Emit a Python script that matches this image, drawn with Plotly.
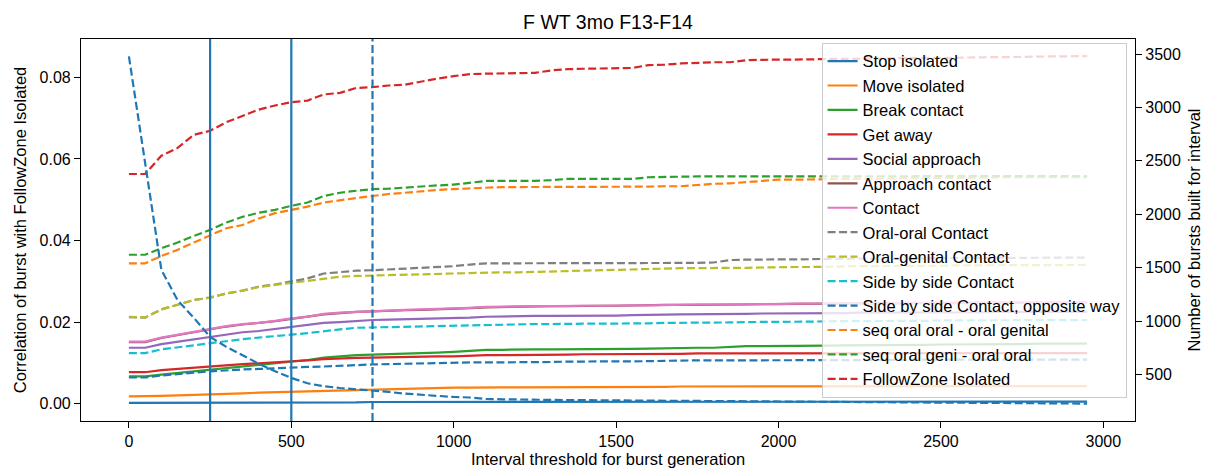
import plotly.graph_objects as go

# ---------------- data ----------------
interval = list(range(0, 3000, 50))

stop_isolated = [0.0002,0.0002,0.0002,0.0002,0.0002,0.0002,0.0002,0.0003,0.0003,0.0003,
                 0.0003,0.0003,0.0003,0.0003,0.0003,0.0004,0.0004,0.0004,0.0004,0.0004,
                 0.0004,0.0004,0.0004,0.0004,0.0004,0.0004,0.0004,0.0004,0.0004,0.0004,
                 0.0004,0.0004,0.0004,0.0004,0.0004,0.0004,0.0005,0.0005,0.0005,0.0005,
                 0.0005,0.0005,0.0005,0.0005,0.0005,0.0005,0.0005,0.0005,0.0005,0.0005,
                 0.0005,0.0005,0.0005,0.0005,0.0005,0.0005,0.0005,0.0005,0.0005,0.0005]
move_isolated = [0.0018,0.0018,0.0019,0.0020,0.0021,0.0022,0.0024,0.0025,0.0027,0.0028,
                 0.0030,0.0031,0.0032,0.0033,0.0034,0.0034,0.0035,0.0036,0.0037,0.0038,
                 0.0039,0.0039,0.0040,0.0040,0.0040,0.0040,0.0040,0.0041,0.0041,0.0041,
                 0.0041,0.0041,0.0041,0.0041,0.0042,0.0042,0.0042,0.0042,0.0042,0.0042,
                 0.0042,0.0042,0.0042,0.0043,0.0043,0.0043,0.0043,0.0043,0.0043,0.0043,
                 0.0043,0.0043,0.0043,0.0043,0.0043,0.0043,0.0043,0.0043,0.0043,0.0043]
break_contact = [0.0067,0.0067,0.0071,0.0075,0.0079,0.0082,0.0086,0.0090,0.0094,0.0098,
                 0.0102,0.0107,0.0113,0.0116,0.0119,0.0120,0.0121,0.0122,0.0124,0.0125,
                 0.0127,0.0130,0.0132,0.0132,0.0133,0.0133,0.0133,0.0133,0.0134,0.0134,
                 0.0134,0.0134,0.0135,0.0136,0.0137,0.0137,0.0137,0.0139,0.0141,0.0141,
                 0.0141,0.0141,0.0142,0.0142,0.0143,0.0143,0.0143,0.0144,0.0144,0.0144,
                 0.0145,0.0145,0.0145,0.0146,0.0146,0.0146,0.0147,0.0147,0.0147,0.0147]
get_away = [0.0077,0.0077,0.0082,0.0085,0.0089,0.0092,0.0095,0.0097,0.0099,0.0101,
            0.0103,0.0106,0.0109,0.0111,0.0112,0.0113,0.0114,0.0115,0.0115,0.0116,
            0.0116,0.0118,0.0119,0.0119,0.0119,0.0120,0.0120,0.0120,0.0121,0.0121,
            0.0121,0.0121,0.0122,0.0122,0.0122,0.0123,0.0123,0.0123,0.0123,0.0124,
            0.0124,0.0124,0.0124,0.0124,0.0124,0.0124,0.0124,0.0124,0.0124,0.0124,
            0.0124,0.0124,0.0124,0.0124,0.0124,0.0124,0.0124,0.0124,0.0124,0.0124]
social_approach = [0.0137,0.0137,0.0146,0.0152,0.0158,0.0164,0.0170,0.0175,0.0178,0.0183,
                   0.0188,0.0192,0.0198,0.0200,0.0203,0.0205,0.0206,0.0207,0.0208,0.0208,
                   0.0209,0.0211,0.0213,0.0214,0.0214,0.0215,0.0215,0.0215,0.0216,0.0216,
                   0.0216,0.0217,0.0217,0.0218,0.0219,0.0219,0.0220,0.0220,0.0220,0.0221,
                   0.0221,0.0221,0.0222,0.0222,0.0222,0.0223,0.0223,0.0223,0.0223,0.0224,
                   0.0224,0.0224,0.0224,0.0224,0.0225,0.0225,0.0225,0.0225,0.0225,0.0225]
approach_contact = [0.0151,0.0151,0.0161,0.0168,0.0174,0.0181,0.0189,0.0194,0.0198,0.0202,
                    0.0208,0.0213,0.0219,0.0222,0.0225,0.0226,0.0228,0.0229,0.0230,0.0231,
                    0.0233,0.0234,0.0236,0.0237,0.0238,0.0238,0.0239,0.0239,0.0240,0.0240,
                    0.0240,0.0241,0.0241,0.0242,0.0242,0.0242,0.0243,0.0243,0.0243,0.0244,
                    0.0244,0.0244,0.0245,0.0245,0.0245,0.0246,0.0246,0.0246,0.0246,0.0247,
                    0.0247,0.0247,0.0247,0.0247,0.0248,0.0248,0.0248,0.0248,0.0248,0.0248]
contact = [0.0152,0.0152,0.0162,0.0169,0.0175,0.0182,0.0190,0.0195,0.0198,0.0203,
           0.0209,0.0213,0.0220,0.0223,0.0225,0.0227,0.0228,0.0230,0.0231,0.0232,
           0.0233,0.0235,0.0237,0.0238,0.0238,0.0239,0.0239,0.0240,0.0240,0.0240,
           0.0241,0.0241,0.0241,0.0242,0.0242,0.0243,0.0243,0.0243,0.0244,0.0244,
           0.0244,0.0245,0.0245,0.0245,0.0246,0.0246,0.0246,0.0246,0.0247,0.0247,
           0.0247,0.0247,0.0247,0.0248,0.0248,0.0248,0.0248,0.0248,0.0248,0.0248]
oral_oral = [0.0212,0.0211,0.0231,0.0242,0.0254,0.0260,0.0270,0.0277,0.0287,0.0292,
             0.0299,0.0307,0.0319,0.0323,0.0326,0.0327,0.0329,0.0332,0.0334,0.0335,
             0.0337,0.0341,0.0344,0.0344,0.0344,0.0344,0.0344,0.0345,0.0345,0.0345,
             0.0345,0.0345,0.0345,0.0345,0.0345,0.0345,0.0346,0.0352,0.0353,0.0353,
             0.0354,0.0354,0.0354,0.0355,0.0355,0.0355,0.0356,0.0356,0.0356,0.0356,
             0.0357,0.0357,0.0357,0.0357,0.0358,0.0358,0.0358,0.0358,0.0358,0.0358]
oral_genital = [0.0213,0.0211,0.0231,0.0242,0.0254,0.0260,0.0270,0.0277,0.0286,0.0291,
                0.0296,0.0301,0.0307,0.0311,0.0313,0.0314,0.0315,0.0316,0.0318,0.0318,
                0.0319,0.0320,0.0321,0.0322,0.0322,0.0323,0.0324,0.0325,0.0326,0.0327,
                0.0328,0.0329,0.0330,0.0332,0.0332,0.0332,0.0333,0.0333,0.0333,0.0334,
                0.0334,0.0335,0.0335,0.0336,0.0336,0.0337,0.0337,0.0337,0.0338,0.0338,
                0.0338,0.0339,0.0339,0.0339,0.0340,0.0340,0.0340,0.0340,0.0340,0.0340]
side_by_side = [0.0124,0.0124,0.0133,0.0138,0.0143,0.0149,0.0154,0.0158,0.0162,0.0165,
                0.0169,0.0173,0.0178,0.0182,0.0186,0.0187,0.0188,0.0189,0.0189,0.0190,
                0.0191,0.0192,0.0193,0.0194,0.0195,0.0195,0.0195,0.0196,0.0196,0.0196,
                0.0196,0.0197,0.0197,0.0198,0.0198,0.0199,0.0199,0.0199,0.0200,0.0200,
                0.0201,0.0201,0.0201,0.0202,0.0202,0.0202,0.0203,0.0203,0.0203,0.0203,
                0.0204,0.0204,0.0204,0.0204,0.0205,0.0205,0.0205,0.0205,0.0205,0.0205]
side_by_side_opposite = [0.0064,0.0064,0.0069,0.0073,0.0076,0.0079,0.0082,0.0084,0.0085,0.0087,
                         0.0088,0.0090,0.0091,0.0093,0.0095,0.0096,0.0097,0.0098,0.0099,0.0100,
                         0.0101,0.0101,0.0101,0.0101,0.0102,0.0102,0.0102,0.0103,0.0103,0.0103,
                         0.0104,0.0104,0.0104,0.0105,0.0106,0.0106,0.0106,0.0106,0.0106,0.0106,
                         0.0106,0.0106,0.0107,0.0107,0.0107,0.0107,0.0107,0.0107,0.0107,0.0108,
                         0.0108,0.0108,0.0108,0.0108,0.0108,0.0108,0.0108,0.0108,0.0108,0.0108]
seq_oral_oral_genital = [0.0344,0.0344,0.0362,0.0377,0.0395,0.0413,0.0430,0.0438,0.0454,0.0467,
                         0.0475,0.0483,0.0493,0.0499,0.0504,0.0509,0.0514,0.0517,0.0521,0.0524,
                         0.0526,0.0528,0.0530,0.0531,0.0531,0.0531,0.0531,0.0531,0.0531,0.0531,
                         0.0531,0.0532,0.0532,0.0533,0.0533,0.0536,0.0539,0.0540,0.0543,0.0547,
                         0.0549,0.0549,0.0550,0.0550,0.0551,0.0551,0.0552,0.0552,0.0553,0.0553,
                         0.0553,0.0554,0.0554,0.0554,0.0555,0.0555,0.0555,0.0555,0.0555,0.0555]
seq_oral_geni_oral = [0.0365,0.0365,0.0381,0.0395,0.0411,0.0426,0.0444,0.0458,0.0468,0.0475,
                      0.0485,0.0493,0.0509,0.0517,0.0522,0.0526,0.0527,0.0530,0.0532,0.0535,
                      0.0537,0.0542,0.0546,0.0546,0.0546,0.0546,0.0548,0.0551,0.0551,0.0551,
                      0.0551,0.0551,0.0555,0.0556,0.0556,0.0557,0.0557,0.0557,0.0557,0.0557,
                      0.0557,0.0557,0.0558,0.0558,0.0558,0.0558,0.0558,0.0558,0.0558,0.0558,
                      0.0558,0.0558,0.0558,0.0558,0.0558,0.0558,0.0558,0.0558,0.0558,0.0558]
followzone_isolated = [0.0563,0.0563,0.0608,0.0627,0.0659,0.0669,0.0690,0.0706,0.0721,0.0731,
                       0.0739,0.0743,0.0758,0.0762,0.0774,0.0776,0.0780,0.0782,0.0790,0.0797,
                       0.0803,0.0808,0.0809,0.0810,0.0810,0.0811,0.0817,0.0820,0.0821,0.0822,
                       0.0822,0.0823,0.0830,0.0831,0.0834,0.0836,0.0837,0.0837,0.0842,0.0843,
                       0.0843,0.0844,0.0844,0.0845,0.0845,0.0846,0.0846,0.0847,0.0847,0.0848,
                       0.0848,0.0848,0.0849,0.0849,0.0850,0.0850,0.0851,0.0851,0.0852,0.0852]
burst_count = [3478,2500,1480,1195,1030,853,759,681,600,531,
               468,418,390,374,362,353,337,321,309,297,
               290,285,272,268,265,264,262,261,260,259,
               258,257,256,255,254,253,252,251,250,249,
               248,247,246,245,244,243,242,241,240,239,
               238,237,236,235,234,233,232,231,230,228]

series_names = ["Stop isolated", "Move isolated", "Break contact", "Get away",
                "Social approach", "Approach contact", "Contact", "Oral-oral Contact",
                "Oral-genital Contact", "Side by side Contact",
                "Side by side Contact, opposite way", "seq oral oral - oral genital",
                "seq oral geni - oral oral", "FollowZone Isolated"]
series_values = [stop_isolated, move_isolated, break_contact, get_away, social_approach,
                 approach_contact, contact, oral_oral, oral_genital, side_by_side,
                 side_by_side_opposite, seq_oral_oral_genital, seq_oral_geni_oral,
                 followzone_isolated]
threshold_lines = [250, 500, 750]
threshold_solid = [True, True, False]

# ---------------- style ----------------
palette = ["#1f77b4", "#ff7f0e", "#2ca02c", "#d62728", "#9467bd",
           "#8c564b", "#e377c2", "#7f7f7f", "#bcbd22", "#17becf"]
DASH = "8px,3.5px"
FONT = "Liberation Sans, Arial, Helvetica, sans-serif"

fig = go.Figure()
for i, (name, vals) in enumerate(zip(series_names, series_values)):
    fig.add_trace(go.Scatter(
        x=interval, y=vals, name=name, mode="lines",
        line=dict(color=palette[i % 10], width=2.2,
                  dash="solid" if i < 7 else DASH),
        yaxis="y"))

fig.add_trace(go.Scatter(
    x=interval, y=burst_count, name="Number of bursts", mode="lines",
    line=dict(color=palette[0], width=2.2, dash=DASH),
    yaxis="y2", showlegend=False))

for xv, solid in zip(threshold_lines, threshold_solid):
    fig.add_shape(type="line", xref="x", yref="paper", x0=xv, x1=xv, y0=0, y1=1,
                  line=dict(color=palette[0], width=2.2,
                            dash="solid" if solid else DASH),
                  layer="above")

axis_common = dict(showgrid=False, zeroline=False, showline=True, linecolor="black",
                   linewidth=1.2, ticks="outside", ticklen=6, tickwidth=1.2,
                   tickcolor="black", tickfont=dict(size=16, color="black"),
                   automargin=False)

fig.update_layout(
    width=1211, height=469,
    margin=dict(l=81, r=76, t=39, b=48),
    paper_bgcolor="white", plot_bgcolor="white",
    font=dict(family=FONT, size=16, color="black"),
    title=dict(text="F WT 3mo F13-F14", x=0.5, xref="paper", xanchor="center",
               y=0.953, yanchor="middle", font=dict(size=19.5, color="black")),
    xaxis=dict(range=[-147.5, 3097.5], tickvals=[0, 500, 1000, 1500, 2000, 2500, 3000],
               mirror=True,
               title=dict(text="Interval threshold for burst generation",
                          font=dict(size=16.5), standoff=2),
               **axis_common),
    yaxis=dict(range=[-0.00426, 0.0894], tickvals=[0, 0.02, 0.04, 0.06, 0.08],
               tickformat=".2f",
               title=dict(text="Correlation of burst with FollowZone Isolated",
                          font=dict(size=16.5), standoff=8),
               **axis_common),
    yaxis2=dict(range=[65, 3641], overlaying="y", side="right",
                tickvals=[500, 1000, 1500, 2000, 2500, 3000, 3500],
                title=dict(text="Number of bursts built for interval",
                           font=dict(size=16.5), standoff=8),
                **axis_common),
    legend=dict(x=0.992, y=0.99, xanchor="right", yanchor="top",
                bgcolor="rgba(255,255,255,0.8)", bordercolor="#cccccc", borderwidth=1,
                font=dict(size=16.5, color="black"), tracegroupgap=0,
                itemwidth=30),
    showlegend=True,
)

fig.write_html("out.html")
